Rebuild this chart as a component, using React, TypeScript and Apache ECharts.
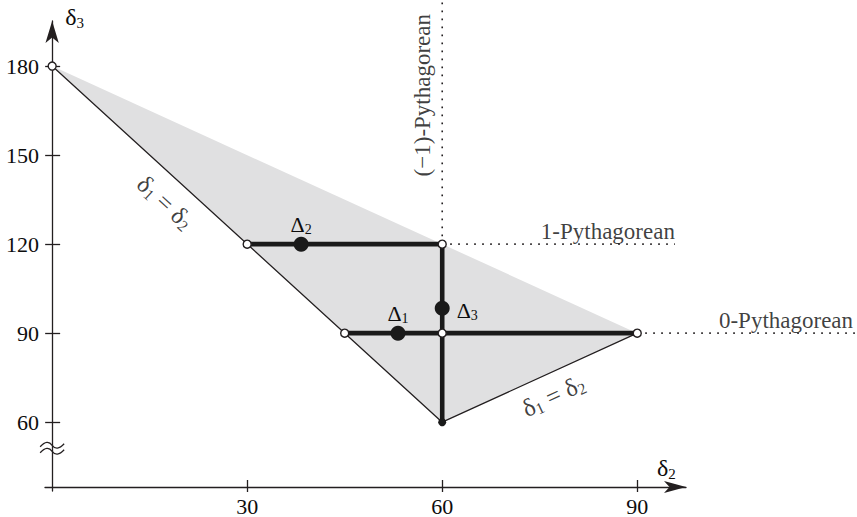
import React, { useEffect, useRef } from "react";
import * as echarts from "echarts";

// ---- data ----
const X_TICKS = [30, 60, 90];
const Y_TICKS = [60, 90, 120, 150, 180];
const X_MIN = -1.1;
const X_MAX = 97.5;
const Y_MIN = 36.8;
const Y_MAX = 195.2;

// shaded admissible region
const REGION_X = [0, 90, 60];
const REGION_Y = [180, 90, 60];

// thin boundary edges (δ1 = δ2)
const EDGE_X = [0, 60, 90];
const EDGE_Y = [180, 60, 90];

// thick segments
const SEG_A_X = [30, 60, 60];
const SEG_A_Y = [120, 120, 60];
const SEG_B_X = [45, 90];
const SEG_B_Y = [90, 90];

// dotted guide lines ((−1)-, 1-, 0-Pythagorean)
const DOT_V_X = [60, 60];
const DOT_V_Y = [120, 202];
const DOT_H1_X = [60, 95.8];
const DOT_H1_Y = [120, 120];
const DOT_H0_X = [90, 124];
const DOT_H0_Y = [90, 90];

// open vertices
const OPEN_X = [0, 30, 60, 45, 60, 90];
const OPEN_Y = [180, 120, 120, 90, 90, 90];

// filled corner
const CORNER_X = [60];
const CORNER_Y = [60];

// Δ points
const DELTA_SUB = ["1", "2", "3"];
const DELTA_X = [53.2, 38.3, 60];
const DELTA_Y = [90, 120, 98.4];

// axis break position
const BREAK_Y = 51.2;

// annotations
const NOTE_TEXTS = [
  "1-Pythagorean",
  "0-Pythagorean",
  "(\u22121)-Pythagorean",
  "{b|\u03b4}{s|1}{b| = \u03b4}{s|2}",
  "{b|\u03b4}{s|1}{b| = \u03b4}{s|2}",
];
const NOTE_X = [95.8, 123.2, 56.9, 17.4, 77.1];
const NOTE_Y = [120, 90, 170.2, 134.1, 68.9];

const zip = (xs: number[], ys: number[]) => xs.map((x, i) => [x, ys[i]]);

const FONT = "Liberation Serif, DejaVu Serif, serif";
const INK = "#231f20";
const TEXT = "#0d0d0d";
const mkRich = (b: number, s: number) => ({
  b: { fontSize: b, fontFamily: FONT, color: TEXT, lineHeight: b + 2 },
  s: { fontSize: s, fontFamily: FONT, color: TEXT, lineHeight: s - 2, verticalAlign: "bottom" },
});
const RICH = mkRich(22, 14);
const RICH_AX = mkRich(24, 15);
const RICH_BIG = mkRich(25, 16);

export default function App() {
  const ref = useRef<HTMLDivElement>(null);

  useEffect(() => {
    if (!ref.current) return;
    const chart = echarts.init(ref.current, null, { renderer: "svg" });

    const noteStyles: any[] = [
      { align: "right", verticalAlign: "bottom", offset: [0, -1] },
      { align: "right", verticalAlign: "bottom", offset: [0, -1] },
      { align: "center", verticalAlign: "middle", rotate: 90 },
      { align: "center", verticalAlign: "middle", rotate: -42.4, rich: RICH_BIG },
      { align: "center", verticalAlign: "middle", rotate: 24.9, rich: RICH_BIG },
    ];

    const deltaLabels: any[] = [
      { position: "top", distance: 0 },
      { position: "top", distance: 0 },
      { position: "right", distance: 7, offset: [0, 2] },
    ];

    const tickLine = { color: INK, width: 1.3 };

    const dotted = (xs: number[], ys: number[]) => ({
      type: "custom",
      silent: true,
      clip: false,
      z: 2,
      data: [[xs[0], ys[0]]],
      renderItem: (_p: any, api: any) => ({
        type: "polyline",
        shape: { points: xs.map((x, i) => api.coord([x, ys[i]])) },
        style: { fill: "none", stroke: INK, lineWidth: 1.6, lineDash: [1.6, 6.4] },
      }),
    });

    const option: any = {
      animation: false,
      textStyle: { fontFamily: FONT },
      grid: {
        left: 45,
        right: 171,
        top: 21,
        bottom: 26,
        containLabel: false,
        outerBoundsMode: "none",
      },
      xAxis: [
        {
          type: "value",
          position: "bottom",
          min: X_MIN,
          max: X_MAX,
          offset: -4,
          axisLine: {
            show: true,
            onZero: false,
            symbol: ["none", "arrow"],
            symbolSize: [9, 22],
            lineStyle: tickLine,
          },
          axisTick: { show: true, length: 5, customValues: X_TICKS, lineStyle: tickLine },
          axisLabel: {
            customValues: X_TICKS,
            fontSize: 22,
            lineHeight: 18,
            fontFamily: FONT,
            color: TEXT,
            margin: 10,
          },
          splitLine: { show: false },
          name: "{b|\u03b4}{s|2}",
          nameLocation: "end",
          nameGap: -29,
          nameTextStyle: {
            align: "left",
            verticalAlign: "bottom",
            padding: [0, 0, 6, 0],
            rich: RICH_AX,
          },
        },
        {
          type: "value",
          position: "bottom",
          min: X_MIN,
          max: X_MAX,
          offset: -4,
          axisLine: { show: false, onZero: false },
          axisTick: { show: true, inside: true, length: 7, customValues: X_TICKS, lineStyle: tickLine },
          axisLabel: { show: false },
          splitLine: { show: false },
        },
      ],
      yAxis: [
        {
          type: "value",
          position: "left",
          min: Y_MIN,
          max: Y_MAX,
          axisLine: {
            show: true,
            onZero: true,
            onZeroAxisIndex: 0,
            symbol: ["none", "arrow"],
            symbolSize: [10, 22],
            lineStyle: tickLine,
          },
          axisTick: { show: true, length: 7, customValues: Y_TICKS, lineStyle: tickLine },
          axisLabel: {
            customValues: Y_TICKS,
            fontSize: 22,
            fontFamily: FONT,
            color: TEXT,
            margin: 6,
          },
          splitLine: { show: false },
          name: "{b|\u03b4}{s|3}",
          nameLocation: "end",
          nameGap: -9,
          nameTextStyle: {
            align: "left",
            verticalAlign: "bottom",
            padding: [0, 0, 0, 13],
            rich: RICH_AX,
          },
        },
        {
          type: "value",
          position: "left",
          min: Y_MIN,
          max: Y_MAX,
          axisLine: { show: false, onZero: true, onZeroAxisIndex: 1 },
          axisTick: { show: true, inside: true, length: 8, customValues: Y_TICKS, lineStyle: tickLine },
          axisLabel: { show: false },
          splitLine: { show: false },
        },
      ],
      series: [
        {
          type: "custom",
          name: "region",
          silent: true,
          z: 1,
          data: [[REGION_X[0], REGION_Y[0]]],
          renderItem: (_p: any, api: any) => ({
            type: "polygon",
            shape: { points: REGION_X.map((x, i) => api.coord([x, REGION_Y[i]])) },
            style: { fill: "#e0e0e1" },
          }),
        },
        {
          type: "custom",
          name: "break",
          silent: true,
          z: 5,
          clip: false,
          data: [[0, BREAK_Y]],
          renderItem: (_p: any, api: any) => {
            const [x, y] = api.coord([0, BREAK_Y]);
            const wave = (y0: number) =>
              `M ${x - 12} ${y0 + 1.5} C ${x - 7} ${y0 - 4}, ${x - 3} ${y0 - 4}, ${x} ${y0} S ${x + 7} ${y0 + 4}, ${x + 12} ${y0 - 1.5}`;
            return {
              type: "group",
              children: [
                { type: "path", shape: { pathData: wave(y - 3) }, style: { fill: "none", stroke: INK, lineWidth: 1.3 } },
                { type: "path", shape: { pathData: wave(y + 3) }, style: { fill: "none", stroke: INK, lineWidth: 1.3 } },
              ],
            };
          },
        },
        dotted(DOT_V_X, DOT_V_Y),
        dotted(DOT_H1_X, DOT_H1_Y),
        dotted(DOT_H0_X, DOT_H0_Y),
        {
          type: "line",
          data: zip(EDGE_X, EDGE_Y),
          symbol: "none",
          silent: true,
          z: 3,
          lineStyle: { color: INK, width: 1.3 },
        },
        ...[zip(SEG_A_X, SEG_A_Y), zip(SEG_B_X, SEG_B_Y)].map((d) => ({
          type: "line",
          data: d,
          symbol: "none",
          silent: true,
          z: 4,
          lineStyle: { color: "#1a1a1a", width: 4.6, join: "miter", cap: "butt" },
        })),
        {
          type: "scatter",
          data: zip(OPEN_X, OPEN_Y),
          symbol: "circle",
          symbolSize: 8,
          silent: true,
          z: 6,
          itemStyle: { color: "#ffffff", borderColor: INK, borderWidth: 1.4, opacity: 1 },
        },
        {
          type: "scatter",
          data: zip(CORNER_X, CORNER_Y),
          symbol: "circle",
          symbolSize: 8,
          silent: true,
          z: 6,
          itemStyle: { color: "#1a1a1a", opacity: 1 },
        },
        {
          type: "scatter",
          data: DELTA_X.map((x, i) => ({
            value: [x, DELTA_Y[i]],
            label: {
              show: true,
              formatter: `{b|\u0394}{s|${DELTA_SUB[i]}}`,
              rich: RICH,
              ...deltaLabels[i],
            },
          })),
          symbol: "circle",
          symbolSize: 15,
          silent: true,
          z: 7,
          itemStyle: { color: "#1a1a1a", opacity: 1 },
        },
        {
          type: "scatter",
          data: NOTE_X.map((x, i) => ({
            value: [x, NOTE_Y[i]],
            label: {
              show: true,
              position: "inside",
              formatter: NOTE_TEXTS[i],
              fontSize: 23,
              fontFamily: FONT,
              color: TEXT,
              textBorderWidth: 0,
              rich: RICH,
              ...noteStyles[i],
            },
          })),
          symbol: "circle",
          symbolSize: 1,
          silent: true,
          clip: false,
          z: 8,
          itemStyle: { color: "rgba(0,0,0,0)" },
        },
      ],
    };

    chart.setOption(option);
    return () => chart.dispose();
  }, []);

  return (
    <div
      ref={ref}
      style={{ position: "absolute", left: 0, top: 0, width: 857, height: 517, background: "#fff" }}
    />
  );
}
